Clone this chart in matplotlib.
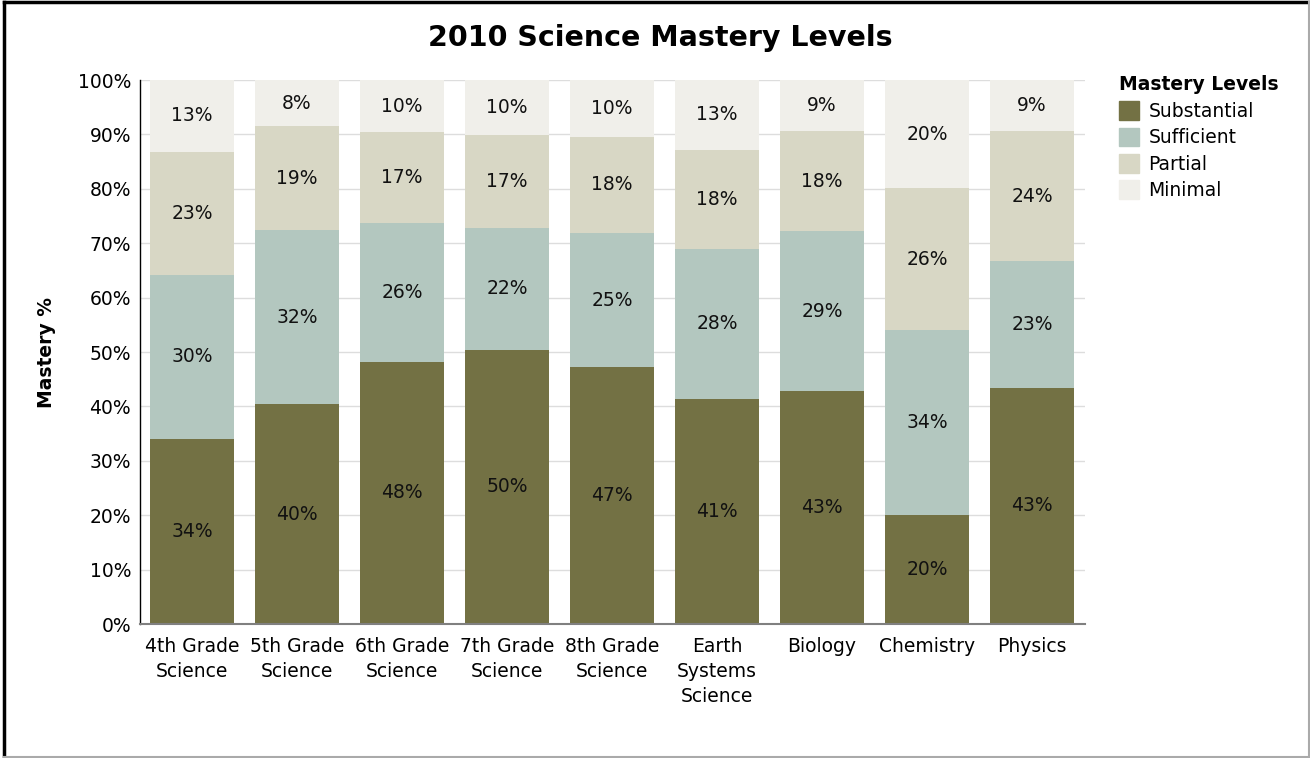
import matplotlib
matplotlib.use("Agg")
import matplotlib.pyplot as plt
from matplotlib.patches import Rectangle
from matplotlib.lines import Line2D
import numpy as np

categories = ["4th Grade\nScience", "5th Grade\nScience", "6th Grade\nScience",
              "7th Grade\nScience", "8th Grade\nScience", "Earth\nSystems\nScience",
              "Biology", "Chemistry", "Physics"]
levels = ["Substantial", "Sufficient", "Partial", "Minimal"]
substantial = [34.0, 40.4, 48.2, 50.4, 47.2, 41.4, 42.8, 20.0, 43.4]
sufficient = [30.2, 32.0, 25.6, 22.4, 24.6, 27.6, 29.4, 34.0, 23.3]
partial = [22.6, 19.1, 16.6, 17.1, 17.8, 18.2, 18.4, 26.1, 23.9]
minimal = [13.2, 8.5, 9.6, 10.1, 10.4, 12.8, 9.4, 19.9, 9.4]
colors = ["#737144", "#b3c7bf", "#d8d7c5", "#f0efea"]

plt.rcParams['font.family'] = ['DejaVu Sans']
FS = 13.5
fig = plt.figure(figsize=(13.1, 7.58), dpi=100)
ax = fig.add_axes([139.5/1310, 1 - 624/758, 945/1310, 544/758])

x = np.arange(len(categories))
bottom = np.zeros(len(categories))
series = [substantial, sufficient, partial, minimal]
for vals, col, name in zip(series, colors, levels):
    vals = np.array(vals)
    ax.bar(x, vals, width=0.8, bottom=bottom, color=col, label=name, zorder=2)
    for xi, b, v in zip(x, bottom, vals):
        ax.text(xi, b + v / 2, f"{v:.0f}%", ha="center", va="center",
                fontsize=FS, color="#111111", zorder=3)
    bottom += vals

ax.set_xlim(-0.5, len(categories) - 0.5)
ax.set_ylim(0, 100)
ax.set_yticks(np.arange(0, 101, 10))
ax.set_yticklabels([f"{v}%" for v in range(0, 101, 10)], fontsize=FS)
ax.set_xticks(x)
ax.set_xticklabels(categories, fontsize=FS, linespacing=1.42)
ax.tick_params(axis="both", length=0, pad=6)
ax.tick_params(axis="x", pad=9)
ax.yaxis.grid(True, color="#dddddd", linewidth=1, zorder=0)
ax.set_axisbelow(True)
for s in ["top", "right"]:
    ax.spines[s].set_visible(False)
ax.spines["left"].set_color("black")
ax.spines["left"].set_linewidth(1)
ax.spines["bottom"].set_color("#808080")
ax.spines["bottom"].set_linewidth(1.5)
ax.set_ylabel("Mastery %", fontsize=FS, fontweight="bold", labelpad=16)

fig.text(660/1310, 1 - 38/758, "2010 Science Mastery Levels", ha="center", va="center",
         fontsize=20.5, fontweight="bold")

handles = [Rectangle((0, 0), 1, 1, color=c) for c in colors]
leg = fig.legend(handles, levels, loc="upper left", bbox_to_anchor=(1110/1310, 1 - 66/758),
                 frameon=False, fontsize=FS, title="Mastery Levels",
                 title_fontproperties={"weight": "bold", "size": FS},
                 handlelength=1.05, handleheight=1.15, handletextpad=0.5,
                 labelspacing=0.36, alignment="left", borderpad=0)

# figure border
fig.add_artist(Line2D([0.003, 0.003], [0, 0.997], transform=fig.transFigure, color="black", lw=2.5))
fig.add_artist(Line2D([0.003, 1], [0.997, 0.997], transform=fig.transFigure, color="black", lw=2.5))
fig.add_artist(Line2D([0.003, 1], [0.001, 0.001], transform=fig.transFigure, color="#aaaaaa", lw=1.5))
fig.add_artist(Line2D([0.999, 0.999], [0, 0.997], transform=fig.transFigure, color="#aaaaaa", lw=1.5))

fig.savefig("out.png", dpi=100)
